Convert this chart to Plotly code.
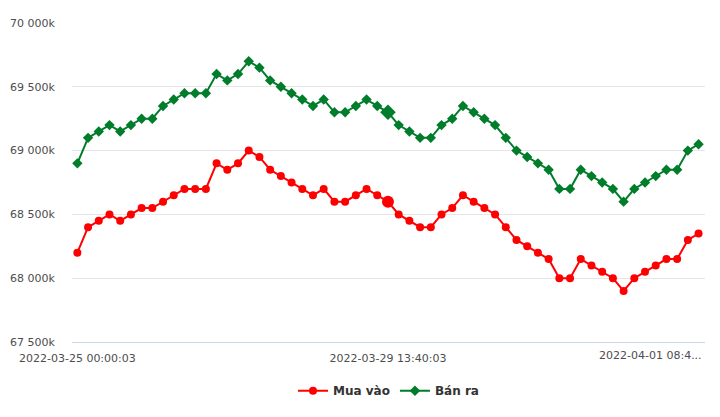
import plotly.graph_objects as go

# --- data ---
mua_vao = [68200, 68400, 68450, 68500, 68450, 68500, 68550, 68550, 68600, 68650,
           68700, 68700, 68700, 68900, 68850, 68900, 69000, 68950, 68850, 68800,
           68750, 68700, 68650, 68700, 68600, 68600, 68650, 68700, 68650, 68600,
           68500, 68450, 68400, 68400, 68500, 68550, 68650, 68600, 68550, 68500,
           68400, 68300, 68250, 68200, 68150, 68000, 68000, 68150, 68100, 68050,
           68000, 67900, 68000, 68050, 68100, 68150, 68150, 68300, 68350]
ban_ra = [68900, 69100, 69150, 69200, 69150, 69200, 69250, 69250, 69350, 69400,
          69450, 69450, 69450, 69600, 69550, 69600, 69700, 69650, 69550, 69500,
          69450, 69400, 69350, 69400, 69300, 69300, 69350, 69400, 69350, 69300,
          69200, 69150, 69100, 69100, 69200, 69250, 69350, 69300, 69250, 69200,
          69100, 69000, 68950, 68900, 68850, 68700, 68700, 68850, 68800, 68750,
          68700, 68600, 68700, 68750, 68800, 68850, 68850, 69000, 69050]
x_index = list(range(len(mua_vao)))
x_tick_index = [0, 29, 58]
x_tick_labels = ["2022-03-25 00:00:03", "2022-03-29 13:40:03", "2022-04-01 08:4..."]
y_tick_vals = [67500, 68000, 68500, 69000, 69500, 70000]
y_tick_labels = ["67 500k", "68 000k", "68 500k", "69 000k", "69 500k", "70 000k"]
hover_index = 29

RED = "#ff0000"
GREEN = "#007d2a"
FONT = "DejaVu Sans"
LABEL = "#4d4d4d"

red_sizes = [12 if i == hover_index else 8 for i in x_index]
green_sizes = [12 if i == hover_index else 8 for i in x_index]

fig = go.Figure()
fig.add_trace(go.Scatter(
    x=x_index, y=mua_vao, name="Mua vào", mode="lines+markers",
    line=dict(color=RED, width=2),
    marker=dict(symbol="circle", size=red_sizes, color=RED, opacity=1, line=dict(width=0)),
))
fig.add_trace(go.Scatter(
    x=x_index, y=ban_ra, name="Bán ra", mode="lines+markers",
    line=dict(color=GREEN, width=2),
    marker=dict(symbol="diamond", size=green_sizes, color=GREEN, opacity=1, line=dict(width=0)),
))

# page body has an 8px default margin, so the figure is sized to compensate
fig.update_layout(
    width=712, height=409,
    margin=dict(l=64, r=15, t=15, b=75, autoexpand=False),
    paper_bgcolor="white", plot_bgcolor="white",
    font=dict(family=FONT, size=11, color=LABEL),
    showlegend=True,
    legend=dict(orientation="h", x=0.5, xanchor="center", y=-0.153, yanchor="middle",
                font=dict(family=FONT, size=12, color="#333333", weight="bold"),
                itemwidth=30, tracegroupgap=0),
    xaxis=dict(
        range=[-0.5, 58.6], showgrid=False, zeroline=False,
        showline=True, linecolor="#ccd6eb", linewidth=1,
        tickmode="array", tickvals=x_tick_index[:2], ticktext=x_tick_labels[:2],
        ticks="outside", ticklen=6, tickcolor="rgba(0,0,0,0)",
        tickfont=dict(family=FONT, size=11, color=LABEL),
        automargin=False,
    ),
    yaxis=dict(
        range=[67500, 70000], showgrid=True, gridcolor="#e6e6e6", gridwidth=1,
        zeroline=False, showline=False,
        tickmode="array", tickvals=y_tick_vals, ticktext=y_tick_labels,
        ticks="outside", ticklen=14, tickcolor="rgba(0,0,0,0)",
        tickfont=dict(family=FONT, size=11, color=LABEL),
        automargin=False,
    ),
    hovermode=False,
)

# last x label is shifted left and truncated (edge label)
fig.add_annotation(
    x=x_tick_index[2], y=0, xref="x", yref="paper",
    text=x_tick_labels[2], showarrow=False,
    xanchor="right", yanchor="top", xshift=5, yshift=-5,
    font=dict(family=FONT, size=11, color=LABEL),
)

fig.write_html("out.html")
